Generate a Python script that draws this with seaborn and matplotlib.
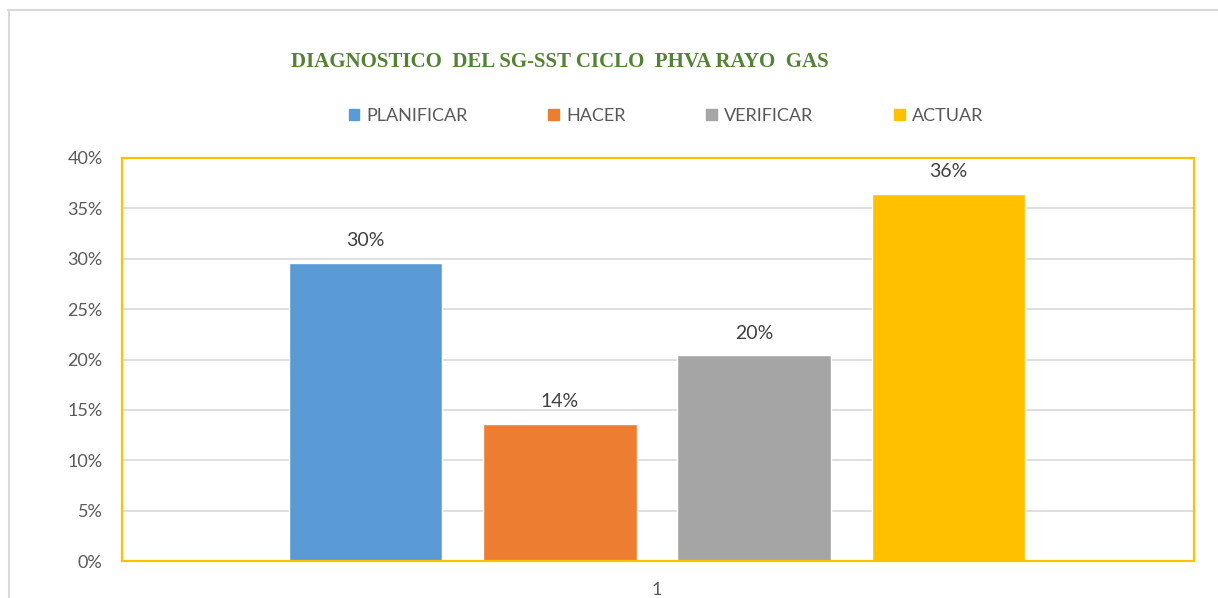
import matplotlib
matplotlib.use("Agg")
import matplotlib.pyplot as plt
import seaborn as sns
import pandas as pd
from matplotlib.lines import Line2D
from matplotlib.ticker import PercentFormatter, MultipleLocator

categories = ["PLANIFICAR", "HACER", "VERIFICAR", "ACTUAR"]
values = [0.296, 0.136, 0.204, 0.364]
group = ["1", "1", "1", "1"]
colors = ["#5B9BD5", "#ED7D31", "#A5A5A5", "#FFC000"]
title = "DIAGNOSTICO  DEL SG-SST CICLO  PHVA RAYO  GAS"

df = pd.DataFrame({"grupo": group, "fase": categories, "valor": values})

sns.set_theme(style="white")
plt.rcParams["font.family"] = ["Lato", "DejaVu Sans"]

fig = plt.figure(figsize=(12.18, 5.98), dpi=100)
ax = fig.add_axes([122/1218, 1-561/598, (1194-122)/1218, (561-158)/598])

sns.barplot(data=df, x="grupo", y="valor", hue="fase", hue_order=categories,
            palette=colors, width=0.725, gap=0.21, ax=ax, saturation=1,
            legend=False)

ax.set_ylim(0, 0.40)
ax.set_xlim(-0.499, 0.501)
ax.yaxis.set_major_locator(MultipleLocator(0.05))
ax.yaxis.set_major_formatter(PercentFormatter(1.0, decimals=0))
ax.grid(axis="y", color="#D9D9D9", linewidth=1.2)
ax.set_axisbelow(True)
ax.set_xlabel("")
ax.set_ylabel("")
ax.tick_params(axis="both", length=0, labelsize=13, colors="#595959")
ax.tick_params(axis="y", pad=14)
ax.tick_params(axis="x", pad=15)
for s in ax.spines.values():
    s.set_color("#FFC000")
    s.set_linewidth(1.6)
    s.set_visible(True)

for cont in ax.containers:
    ax.bar_label(cont, labels=[f"{v*100:.0f}%" for v in cont.datavalues],
                 padding=10, fontsize=14, color="#404040")

handles = [plt.Rectangle((0, 0), 1, 1, color=c) for c in colors]
fig.legend(handles, categories, loc="center", bbox_to_anchor=(666/1218, 1-116/598),
           ncol=4, frameon=False, fontsize=13, handlelength=0.6, handleheight=0.6,
           handletextpad=0.4, columnspacing=4.45, labelcolor="#595959")

fig.text(560/1218, 1-62/598, title, ha="center", va="center", fontsize=15,
         fontweight="bold", color="#548235", family=["Liberation Serif", "DejaVu Serif"])

fig.add_artist(Line2D([8.5/1218, 8.5/1218], [0, 1-9.5/598], transform=fig.transFigure,
                      color="#D9D9D9", linewidth=1.5))
fig.add_artist(Line2D([8/1218, 1], [1-9.5/598, 1-9.5/598], transform=fig.transFigure,
                      color="#D9D9D9", linewidth=1.5))

fig.savefig("out.png", dpi=100)
